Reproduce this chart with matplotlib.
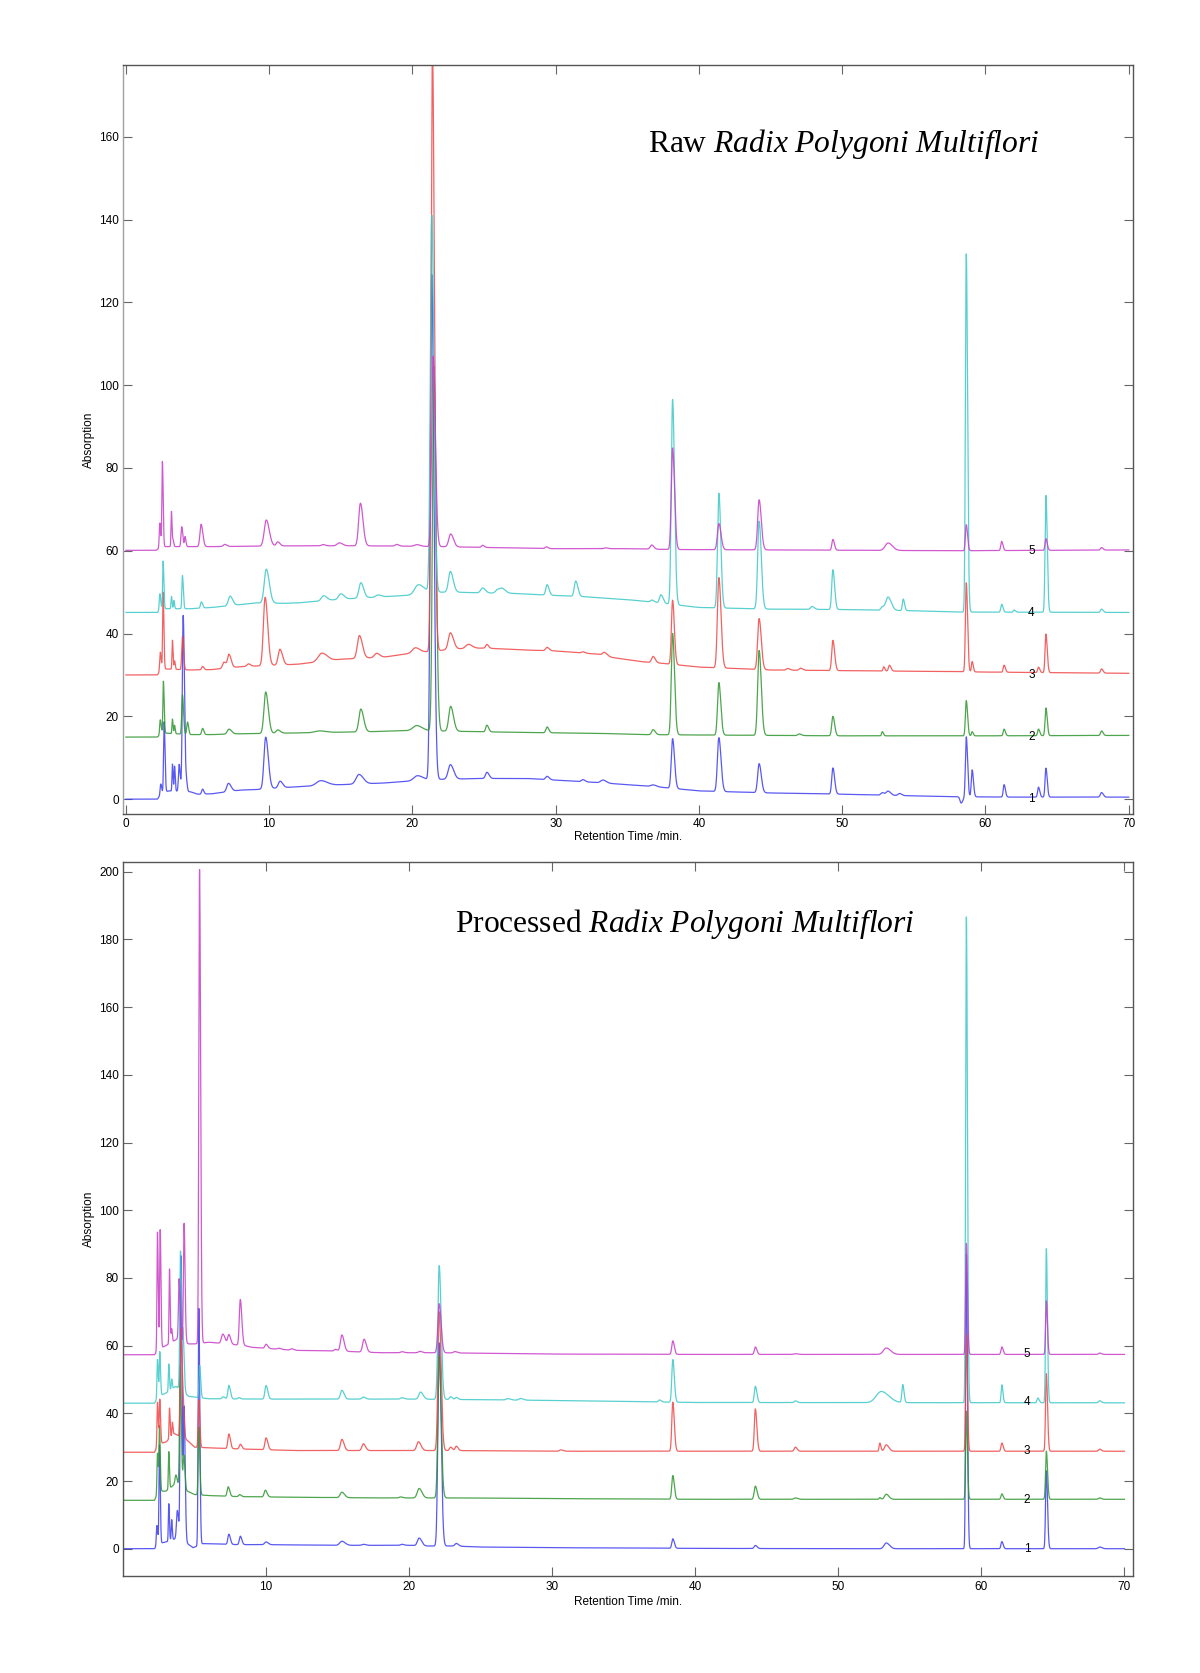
import numpy as np
import matplotlib
matplotlib.use("Agg")
import matplotlib.pyplot as plt

plt.rcParams['font.family'] = ['Liberation Sans', 'DejaVu Sans']
plt.rcParams['mathtext.fontset'] = 'custom'
plt.rcParams['mathtext.rm'] = 'Liberation Serif'
plt.rcParams['mathtext.it'] = 'Liberation Serif:italic'

# ---- data: baseline knots (time, absorption) and peaks (time, height, width) ----
# Raw Radix Polygoni Multiflori
raw_base_1 = [(0, 0), (2.2, 0), (2.5, 1.5), (3, 2), (4.5, 1.8), (5, 1.2), (6, 1.3), (8, 2.2), (9, 2.3),
              (11, 2.8), (12, 3), (15, 3.5), (18, 3.9), (20, 4.4), (22, 4.8), (25, 5), (28, 5), (30, 4.6),
              (33, 4), (35, 3.5), (37, 3), (40, 2), (45, 1.5), (50, 1.2), (55, 0.8), (57.5, 0.6), (62, 0.5), (70, 0.5)]
raw_peaks_1 = [(2.43, 2.5, 0.04), (2.67, 17, 0.04), (3.25, 6.5, 0.03), (3.4, 6, 0.03), (3.72, 6.5, 0.05),
               (4.0, 42.5, 0.06), (4.23, 2, 0.04), (5.35, 1.2, 0.06), (7.16, 2, 0.12), (9.76, 12.5, 0.12),
               (10.76, 1.6, 0.12), (13.6, 1.2, 0.3), (16.27, 2.3, 0.2), (20.35, 1.2, 0.25), (21.35, 122, 0.1),
               (22.65, 3.5, 0.15), (25.2, 1.5, 0.1), (29.4, 0.8, 0.1), (31.9, 0.5, 0.1), (33.3, 0.7, 0.15),
               (36.8, 0.4, 0.15), (38.16, 12, 0.09), (41.39, 13, 0.1), (44.2, 7, 0.1), (49.35, 6.3, 0.08),
               (52.8, 0.6, 0.1), (53.2, 1, 0.12), (54, 0.5, 0.1), (58.3, -1.5, 0.08), (58.66, 14.5, 0.06),
               (59.07, 6.5, 0.06), (61.3, 3, 0.06), (63.7, 2.4, 0.06), (64.22, 7, 0.06), (68.1, 1.1, 0.08)]

raw_base_2 = [(0, 15), (2.2, 15), (2.5, 16), (4.5, 15.6), (6, 15.6), (8, 15.8), (12, 16), (17, 16.3), (20, 16.6),
              (23, 16.4), (28, 16.1), (33, 15.9), (36, 15.6), (40, 15.5), (50, 15.3), (60, 15.3), (70, 15.4)]
raw_peaks_2 = [(2.4, 3.5, 0.04), (2.62, 12.5, 0.035), (3.25, 3.5, 0.03), (3.4, 2, 0.03), (3.95, 9.5, 0.05),
               (4.3, 3, 0.05), (5.35, 1.5, 0.06), (7.2, 1.2, 0.12), (9.76, 10, 0.12), (10.6, 0.8, 0.12),
               (13.5, 0.4, 0.3), (16.4, 5.5, 0.13), (20.3, 1.2, 0.25), (21.5, 88, 0.1), (22.67, 6, 0.13),
               (25.2, 1.6, 0.08), (29.4, 1.4, 0.08), (36.8, 1.2, 0.1), (38.16, 24.5, 0.09), (41.39, 12.7, 0.09),
               (44.2, 20.5, 0.1), (47, 0.4, 0.1), (49.35, 4.7, 0.08), (52.8, 1, 0.05), (58.66, 8.5, 0.06),
               (59.07, 1, 0.05), (61.3, 1.6, 0.06), (63.7, 1.6, 0.06), (64.22, 6.7, 0.06), (68.1, 1.1, 0.07)]

raw_base_3 = [(0, 30), (2.2, 30), (2.5, 31.5), (4.5, 31.2), (6, 31.3), (8, 32), (10, 32.3), (12, 32.6), (15, 33.8),
              (18, 34.3), (20, 35.3), (21, 35.6), (23, 36.3), (25, 36.5), (28, 36), (30, 35.8), (33, 35),
              (34, 34.2), (36, 33.2), (37.5, 32.8), (40, 31.9), (43, 31.5), (45, 31.2), (58, 30.8), (60, 30.7), (70, 30.4)]
raw_peaks_3 = [(2.4, 4.5, 0.04), (2.6, 18.5, 0.035), (3.25, 7, 0.03), (3.4, 2, 0.03), (3.95, 8, 0.05),
               (5.35, 0.8, 0.06), (6.85, 1.5, 0.1), (7.2, 3.2, 0.1), (8.55, 0.6, 0.1), (9.72, 16.5, 0.12),
               (10.75, 3.8, 0.12), (13.67, 2, 0.25), (16.3, 5.5, 0.14), (17.5, 1, 0.15), (20.2, 1.2, 0.2),
               (21.4, 145, 0.09), (22.65, 4, 0.14), (23.9, 1, 0.18), (25.2, 0.9, 0.08), (29.4, 0.8, 0.1),
               (31.9, 0.3, 0.1), (33.4, 0.8, 0.12), (36.8, 1.5, 0.1), (38.16, 15.5, 0.08), (41.39, 21.8, 0.1),
               (44.2, 12.3, 0.1), (46.2, 0.4, 0.1), (47.1, 0.5, 0.1), (49.35, 7.3, 0.08), (52.9, 1, 0.05),
               (53.3, 1.4, 0.07), (58.66, 21.5, 0.06), (59.07, 2.5, 0.05), (61.3, 1.7, 0.06), (63.7, 1.3, 0.06),
               (64.22, 9.3, 0.06), (68.1, 1, 0.07)]

raw_base_4 = [(0, 45.1), (2.2, 45.1), (2.5, 46), (4.5, 46), (6, 46.3), (8, 47), (9, 47.4), (11, 47.3), (12, 47.4),
              (15, 48.3), (18, 48.9), (20, 49.3), (21, 50), (23, 50), (25, 49.8), (27, 49.7), (30, 49.2),
              (32, 48.9), (35, 48.2), (37, 47.5), (40, 46.3), (45, 45.9), (50, 45.8), (55, 45.5), (58, 45.2), (70, 45.1)]
raw_peaks_4 = [(2.37, 4, 0.04), (2.6, 11.5, 0.035), (3.18, 3, 0.03), (3.35, 2, 0.03), (3.95, 8, 0.04),
               (5.27, 1.5, 0.06), (7.27, 2.3, 0.12), (9.8, 8.2, 0.14), (13.8, 1.2, 0.15), (15.0, 1.3, 0.15),
               (16.4, 3.7, 0.13), (17.6, 0.5, 0.15), (20.4, 2.2, 0.25), (21.35, 91, 0.1), (22.65, 5, 0.13),
               (24.9, 1.2, 0.13), (25.97, 0.9, 0.15), (26.3, 0.9, 0.15), (29.4, 2.5, 0.09), (31.4, 3.7, 0.1),
               (36.72, 0.5, 0.1), (37.35, 2, 0.1), (38.16, 49.5, 0.09), (41.39, 27.7, 0.09), (44.2, 21.2, 0.1),
               (47.9, 0.7, 0.1), (49.35, 9.6, 0.08), (52.8, 0.8, 0.1), (53.2, 3.2, 0.15), (54.26, 2.8, 0.06),
               (58.66, 86.5, 0.06), (61.13, 1.9, 0.06), (62, 0.5, 0.06), (64.22, 28.2, 0.06), (68.1, 0.8, 0.07)]

raw_base_5 = [(0, 60.1), (2.1, 60.1), (2.5, 61), (4.5, 61), (6, 61), (9, 61.1), (12, 61.2), (16, 61.2), (20, 61.1),
              (22, 61), (25, 60.8), (30, 60.5), (35, 60.5), (38, 60.3), (45, 60.2), (58, 60), (70, 60.2)]
raw_peaks_5 = [(2.37, 6, 0.04), (2.55, 20.5, 0.035), (3.18, 8.5, 0.03), (3.3, 1.5, 0.03), (3.9, 4.8, 0.05),
               (4.13, 2.4, 0.04), (5.25, 5.4, 0.08), (6.9, 0.5, 0.1), (9.8, 6.3, 0.14), (10.6, 1, 0.1),
               (13.76, 0.3, 0.1), (14.9, 0.7, 0.15), (16.37, 10.3, 0.12), (18.9, 0.4, 0.1), (20.3, 0.4, 0.15),
               (21.45, 46, 0.1), (22.67, 3.1, 0.13), (24.9, 0.5, 0.08), (29.35, 0.4, 0.08), (33.5, 0.2, 0.1),
               (36.7, 1, 0.1), (38.16, 24.5, 0.09), (41.39, 6.3, 0.1), (44.2, 12.1, 0.1), (49.35, 2.6, 0.07),
               (53.2, 1.8, 0.2), (58.66, 6.3, 0.06), (61.13, 2.2, 0.06), (64.22, 2.8, 0.06), (68.1, 0.6, 0.07)]

# Processed Radix Polygoni Multiflori
pro_base_1 = [(0, 0), (2.2, 0), (2.5, 1.5), (3, 2), (3.7, 3), (4.5, 1.5), (4.9, 0.3), (5.6, 1.5), (6, 1.5),
              (8, 1.2), (10, 1.2), (15, 1), (20, 1), (21, 0.8), (23, 0.8), (25, 0.5), (30, 0.3), (40, 0.1),
              (50, 0), (70, 0)]
pro_peaks_1 = [(2.37, 6, 0.04), (2.55, 29, 0.035), (3.2, 11, 0.03), (3.4, 6, 0.03), (3.8, 8.5, 0.06),
               (4.05, 84, 0.05), (4.27, 39, 0.05), (5.3, 70, 0.045), (7.4, 3, 0.07), (8.2, 2.5, 0.07),
               (10.0, 0.8, 0.1), (15.3, 1.2, 0.15), (16.8, 0.3, 0.1), (19.5, 0.3, 0.1), (20.7, 2.3, 0.12),
               (22.1, 60, 0.09), (23.3, 0.8, 0.1), (38.43, 2.8, 0.07), (44.2, 0.9, 0.08), (53.35, 1.7, 0.15),
               (58.95, 87, 0.05), (61.43, 2.1, 0.06), (64.54, 23, 0.055), (68.27, 0.5, 0.1)]

pro_base_2 = [(0, 14.3), (2.2, 14.3), (2.5, 17), (3, 17), (3.6, 19), (4.5, 17), (5, 16), (6, 15.7), (8, 15.4),
              (12, 15.2), (18, 15), (24, 15), (30, 14.8), (40, 14.6), (70, 14.6)]
pro_peaks_2 = [(2.41, 12, 0.035), (2.55, 19, 0.035), (3.2, 11, 0.03), (3.7, 3, 0.06), (4.0, 36, 0.05),
               (4.25, 10, 0.05), (5.3, 20, 0.045), (7.35, 2.8, 0.07), (8.15, 0.6, 0.07), (9.95, 2, 0.08),
               (15.3, 1.6, 0.12), (19.4, 0.3, 0.1), (20.7, 2.8, 0.13), (22.1, 42, 0.09), (38.43, 7, 0.07),
               (44.2, 3.9, 0.08), (47, 0.4, 0.1), (52.9, 0.5, 0.05), (53.35, 1.5, 0.12), (58.95, 26, 0.05),
               (61.43, 1.6, 0.06), (64.54, 14.2, 0.055), (68.27, 0.4, 0.08)]

pro_base_3 = [(0, 28.5), (2.2, 28.5), (2.5, 31), (3, 31.5), (3.6, 34), (4.5, 32), (5, 30), (6, 29.8), (8, 29.5),
              (12, 29), (23, 29), (30, 28.8), (70, 28.8)]
pro_peaks_3 = [(2.41, 13, 0.035), (2.57, 13, 0.035), (3.25, 9, 0.03), (3.45, 4, 0.03), (4.05, 32, 0.05),
               (4.2, 10, 0.05), (5.3, 14, 0.045), (7.4, 4.3, 0.07), (8.2, 1.4, 0.07), (10.0, 3.5, 0.08),
               (15.3, 3.3, 0.1), (16.8, 2, 0.1), (20.65, 2.6, 0.12), (22.1, 41, 0.09), (22.9, 1, 0.08),
               (23.3, 1.3, 0.08), (30.6, 0.4, 0.1), (38.43, 14.5, 0.07), (44.2, 12.5, 0.07), (47.0, 1.2, 0.08),
               (52.9, 2.4, 0.05), (53.35, 1.9, 0.12), (58.95, 34.4, 0.05), (61.43, 2.4, 0.06), (64.54, 22.9, 0.055),
               (68.27, 0.6, 0.08)]

pro_base_4 = [(0, 43), (2.2, 43), (2.5, 45), (3, 46), (3.7, 48), (4.6, 45), (6, 44.3), (10, 44.2), (20, 44.2),
              (23, 44.1), (30, 43.8), (40, 43.2), (70, 43.1)]
pro_peaks_4 = [(2.41, 11.5, 0.035), (2.57, 13, 0.035), (3.2, 8, 0.03), (3.4, 3, 0.03), (4.02, 41, 0.05),
               (4.2, 16, 0.05), (5.36, 9.5, 0.045), (7.0, 0.6, 0.08), (7.4, 4, 0.07), (8.1, 0.4, 0.07),
               (10.0, 4, 0.08), (15.3, 2.6, 0.1), (16.8, 0.6, 0.1), (19.5, 0.4, 0.1), (20.8, 2.1, 0.12),
               (22.1, 39.5, 0.09), (22.9, 0.8, 0.08), (23.3, 0.6, 0.08), (26.9, 0.4, 0.12), (27.8, 0.5, 0.12),
               (37.5, 0.6, 0.08), (38.43, 12.6, 0.07), (44.2, 4.8, 0.07), (47.0, 0.5, 0.08), (53.0, 3.3, 0.35),
               (54.5, 5.3, 0.06), (58.95, 143.5, 0.05), (61.43, 5.3, 0.05), (63.95, 1.4, 0.06), (64.54, 45.5, 0.05),
               (68.27, 0.6, 0.08)]

pro_base_5 = [(0, 57.3), (2.2, 57.3), (2.5, 59), (3, 60), (3.8, 62), (4.6, 60.5), (5, 60.5), (6, 61), (8.5, 60),
              (9, 59.5), (12, 58.6), (15, 58.4), (18, 57.9), (22, 57.9), (30, 57.5), (40, 57.4), (70, 57.4)]
pro_peaks_5 = [(2.41, 35, 0.035), (2.6, 35, 0.035), (3.25, 22, 0.03), (3.4, 4, 0.03), (3.92, 18, 0.045),
               (4.27, 35, 0.045), (5.35, 140, 0.05), (6.98, 2.8, 0.1), (7.4, 2.8, 0.08), (8.2, 13.5, 0.07),
               (10.0, 1.2, 0.08), (10.9, 0.3, 0.1), (11.8, 0.4, 0.1), (14.85, 0.5, 0.08), (15.3, 4.8, 0.1),
               (16.85, 3.8, 0.1), (19.5, 0.3, 0.1), (20.75, 0.4, 0.1), (22.1, 14.5, 0.09), (23.2, 0.4, 0.1),
               (38.43, 4, 0.07), (44.2, 2.2, 0.07), (47.0, 0.2, 0.1), (53.35, 1.9, 0.2), (58.95, 32.8, 0.05),
               (61.43, 2.2, 0.06), (64.54, 15.8, 0.05), (68.27, 0.4, 0.08)]

sample_labels = ['1', '2', '3', '4', '5']
raw_offsets = [0, 15, 30, 45, 60]
pro_offsets = [0, 14.4, 28.8, 43.2, 57.6]
colors = ['#3c3cf0', '#2e962e', '#f04646', '#3cc8c8', '#c83cc8']

raw_sets = [(raw_base_1, raw_peaks_1), (raw_base_2, raw_peaks_2), (raw_base_3, raw_peaks_3),
            (raw_base_4, raw_peaks_4), (raw_base_5, raw_peaks_5)]
pro_sets = [(pro_base_1, pro_peaks_1), (pro_base_2, pro_peaks_2), (pro_base_3, pro_peaks_3),
            (pro_base_4, pro_peaks_4), (pro_base_5, pro_peaks_5)]

t = np.arange(0, 70.005, 0.005)


def trace(base, peaks):
    bx, by = zip(*base)
    y = np.interp(t, bx, by)
    for rt, h, s in peaks:
        sig = np.where(t < rt, s, s * 1.5)  # slight tailing
        y = y + h * np.exp(-0.5 * ((t - rt) / sig) ** 2)
    return y


fig = plt.figure(figsize=(12, 16.73), dpi=100)
ax1 = fig.add_axes([0.1025, 0.5134, 0.8417, 0.4477])
ax2 = fig.add_axes([0.1025, 0.0577, 0.8417, 0.4271])


def style(ax, yticks):
    for sp in ax.spines.values():
        sp.set_color('#555555')
        sp.set_linewidth(1.0)
    ax.tick_params(direction='in', length=6.5, width=0.8, color='#666666', top=True, right=True,
                   labelsize=8.5, pad=3)
    ax.set_yticks(yticks)
    ax.set_xticks(range(0, 71, 10))
    ax.set_ylabel('Absorption', fontsize=8.5)
    ax.set_xlabel('Retention Time /min.', fontsize=8.5)
    ax.yaxis.set_label_coords(-0.028, 0.5)


for ax, sets, offs in [(ax1, raw_sets, raw_offsets), (ax2, pro_sets, pro_offsets)]:
    for (base, peaks), c in zip(sets, colors):
        ax.plot(t, trace(base, peaks), color=c, lw=0.9, alpha=0.85)
    for lab, off in zip(sample_labels, offs):
        ax.text(63.2, off, lab, fontsize=8.5, ha='center', va='center')

ax1.set_xlim(-0.2, 70.3)
ax1.set_ylim(-3.6, 177.3)
style(ax1, range(0, 161, 20))
ax1.spines['left'].set_color('#a0a0a0')
ax1.xaxis.set_label_coords(0.5, -0.023)

ax2.set_xlim(0.3, 70.6)
ax2.set_ylim(-8.2, 202.9)
style(ax2, range(0, 201, 20))
ax2.set_xticks(range(10, 71, 10))
ax2.xaxis.set_label_coords(0.5, -0.028)

ax1.text(0.714, 0.8945, r'Raw $\it{Radix\ Polygoni\ Multiflori}$', transform=ax1.transAxes,
         fontsize=22.7, family='Liberation Serif', ha='center', va='center')
ax2.text(0.5564, 0.913, r'Processed $\it{Radix\ Polygoni\ Multiflori}$', transform=ax2.transAxes,
         fontsize=22.7, family='Liberation Serif', ha='center', va='center')

fig.savefig('out.png', dpi=100, facecolor='white')
